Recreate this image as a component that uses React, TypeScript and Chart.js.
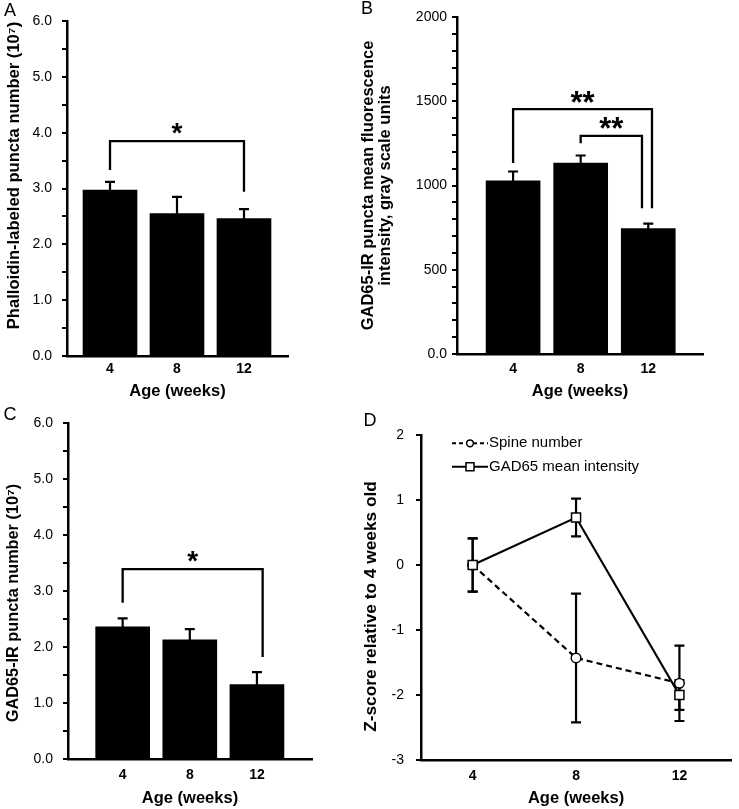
import React, { useEffect, useRef } from "react";
import { Chart, registerables } from "chart.js";

Chart.register(...registerables);

const FONT = '"Liberation Sans", Arial, Helvetica, sans-serif';
Chart.defaults.font.family = FONT;
Chart.defaults.color = "#000";

// ---- shared categories ----
const ageLabels = ["4", "8", "12"];
const agePositions = [1, 2, 3];

// ---- Panel A: Phalloidin-labeled puncta number (10^7) ----
const phalloidinMeans = [2.97, 2.55, 2.46];
const phalloidinSEM = [0.15, 0.3, 0.17];

// ---- Panel B: GAD65-IR puncta mean fluorescence intensity ----
const gadIntensityMeans = [1028, 1133, 745];
const gadIntensitySEM = [55, 45, 29];

// ---- Panel C: GAD65-IR puncta number (10^7) ----
const gadPunctaMeans = [2.36, 2.13, 1.33];
const gadPunctaSEM = [0.15, 0.19, 0.22];

// ---- Panel D: Z-scores relative to 4 weeks old ----
const spineZ = [0, -1.43, -1.82];
const spineZErr = [0.41, 0.99, 0.58];
const gadZ = [0, 0.73, -2.0];
const gadZErr = [0.41, 0.29, 0.23];

// ---- significance brackets (x in category positions, y in data units) ----
const bracketsA = [{ from: 1, to: 3, top: 3.85, leftEnd: 3.33, rightEnd: 2.94, label: "*" }];
const bracketsB = [
  { from: 1, to: 3.055, top: 1453, leftEnd: 1133, rightEnd: 865, label: "**" },
  { from: 2, to: 2.907, top: 1295, leftEnd: 1251, rightEnd: 865, label: "**" },
];
const bracketsC = [{ from: 1, to: 3.085, top: 3.39, leftEnd: 2.79, rightEnd: 1.82, label: "*" }];

// ---------------- plugins ----------------
function errorBarPlugin(errs: number[][]) {
  return {
    id: "errorBars",
    beforeDatasetsDraw(chart: any) {
      const { ctx } = chart;
      const xs = chart.scales.x;
      const ys = chart.scales.y;
      ctx.save();
      ctx.strokeStyle = "#000";
      ctx.lineWidth = 2.2;
      ctx.setLineDash([]);
      chart.data.datasets.forEach((ds: any, di: number) => {
        const e = errs[di];
        if (!e) return;
        ds.data.forEach((pt: any, j: number) => {
          const x = xs.getPixelForValue(pt.x);
          const yHi = ys.getPixelForValue(pt.y + e[j]);
          const yLo = ys.getPixelForValue(pt.y - e[j]);
          ctx.beginPath();
          ctx.moveTo(x, yLo);
          ctx.lineTo(x, yHi);
          ctx.moveTo(x - 5, yHi);
          ctx.lineTo(x + 5, yHi);
          ctx.moveTo(x - 5, yLo);
          ctx.lineTo(x + 5, yLo);
          ctx.stroke();
        });
      });
      ctx.restore();
    },
  };
}

function bracketPlugin(brackets: any[], starSize: number) {
  return {
    id: "brackets",
    afterDatasetsDraw(chart: any) {
      const { ctx } = chart;
      const xs = chart.scales.x;
      const ys = chart.scales.y;
      ctx.save();
      ctx.strokeStyle = "#000";
      ctx.lineWidth = 2.3;
      ctx.lineJoin = "miter";
      brackets.forEach((b) => {
        const x1 = xs.getPixelForValue(b.from);
        const x2 = xs.getPixelForValue(b.to);
        const yt = ys.getPixelForValue(b.top);
        ctx.beginPath();
        ctx.moveTo(x1, ys.getPixelForValue(b.leftEnd));
        ctx.lineTo(x1, yt);
        ctx.lineTo(x2, yt);
        ctx.lineTo(x2, ys.getPixelForValue(b.rightEnd));
        ctx.stroke();
        ctx.font = `bold ${starSize}px ${FONT}`;
        ctx.fillStyle = "#000";
        ctx.textAlign = "center";
        ctx.textBaseline = "alphabetic";
        const m = ctx.measureText(b.label);
        const asc = m.actualBoundingBoxAscent || starSize * 0.72;
        const desc = m.actualBoundingBoxDescent || -starSize * 0.38;
        const cy = yt - 12.5;
        ctx.fillText(b.label, (x1 + x2) / 2, cy + (asc - desc) / 2);
      });
      ctx.restore();
    },
  };
}

function letterPlugin(letter: string, x: number, y: number) {
  return {
    id: "panelLetter",
    afterDraw(chart: any) {
      const { ctx } = chart;
      ctx.save();
      ctx.font = `18px ${FONT}`;
      ctx.fillStyle = "#000";
      ctx.textAlign = "center";
      ctx.textBaseline = "middle";
      ctx.fillText(letter, x, y);
      ctx.restore();
    },
  };
}

// vertical axis title, drawn rotated next to the y axis
function yTitlePlugin(p: any) {
  return {
    id: "yAxisTitle",
    afterDraw(chart: any) {
      const { ctx, chartArea } = chart;
      const lines: string[] = Array.isArray(p.yTitle) ? p.yTitle : [p.yTitle];
      const cy = (chartArea.top + chartArea.bottom) / 2 + p.yTitleShift;
      ctx.save();
      ctx.font = `bold ${p.yTitleSize}px ${FONT}`;
      ctx.fillStyle = "#000";
      ctx.textAlign = "center";
      ctx.textBaseline = "middle";
      lines.forEach((line, i) => {
        ctx.save();
        ctx.translate(p.yTitleX + i * p.yTitleLineGap, cy);
        ctx.rotate(-Math.PI / 2);
        ctx.fillText(line, 0, 0);
        ctx.restore();
      });
      ctx.restore();
    },
  };
}

const zLegendPlugin = {
  id: "zLegend",
  afterDatasetsDraw(chart: any) {
    const { ctx, chartArea } = chart;
    chart.data.datasets.forEach((ds: any, i: number) => {
      const y = chartArea.top + 8.3 + i * 23.4;
      const x0 = chartArea.left + 31;
      const x1 = chartArea.left + 67;
      const xm = (x0 + x1) / 2;
      ctx.save();
      ctx.strokeStyle = "#000";
      ctx.lineWidth = 2;
      ctx.setLineDash(ds.borderDash && ds.borderDash.length ? [4, 3] : []);
      ctx.beginPath();
      ctx.moveTo(x0, y);
      ctx.lineTo(x1, y);
      ctx.stroke();
      ctx.setLineDash([]);
      ctx.lineWidth = 1.5;
      ctx.fillStyle = "#fff";
      ctx.beginPath();
      if (ds.pointStyle === "rect") {
        ctx.rect(xm - 4, y - 4, 8, 8);
      } else {
        ctx.arc(xm, y, 3.4, 0, Math.PI * 2);
      }
      ctx.fill();
      ctx.stroke();
      ctx.font = `15px ${FONT}`;
      ctx.fillStyle = "#000";
      ctx.textAlign = "left";
      ctx.textBaseline = "middle";
      ctx.fillText(ds.label, chartArea.left + 68, y);
      ctx.restore();
    });
  },
};

// ---------------- config builders ----------------
function xAxis(p: any) {
  return {
    type: "linear",
    min: p.xMin,
    max: p.xMax,
    offset: false,
    afterFit: (s: any) => {
      s.height = p.height - p.area.bottom;
    },
    afterBuildTicks: (s: any) => {
      s.ticks = agePositions.map((v) => ({ value: v }));
    },
    grid: { display: false, drawTicks: false },
    border: { display: true, color: "#000", width: 2.5 },
    ticks: {
      autoSkip: false,
      maxRotation: 0,
      padding: p.xTickPad,
      color: "#000",
      font: { family: FONT, size: 14, weight: "bold" },
      callback: (_v: any, i: number) => ageLabels[i],
    },
    title: {
      display: true,
      text: "Age (weeks)",
      color: "#000",
      font: { family: FONT, size: 16.5, weight: "bold", lineHeight: p.xTitleLH },
      padding: { top: 0, bottom: p.xTitlePad },
    },
  };
}

function yAxis(p: any) {
  return {
    min: p.yMin,
    max: p.yMax,
    afterFit: (s: any) => {
      s.width = p.area.left;
    },
    grid: {
      display: true,
      drawOnChartArea: false,
      drawTicks: true,
      tickLength: 5,
      color: "#000",
      lineWidth: 2,
    },
    border: { display: true, color: "#000", width: 2.5 },
    ticks: {
      stepSize: p.step,
      autoSkip: false,
      padding: p.yTickPad,
      color: "#000",
      font: { family: FONT, size: 14 },
      callback: p.yFormat,
    },
    title: { display: false, text: p.yTitle },
  };
}

function layoutPadding(p: any) {
  return { left: 0, top: p.area.top, right: p.width - p.area.right, bottom: 0 };
}

function barConfig(p: any): any {
  return {
    type: "bar",
    data: {
      datasets: [
        {
          data: p.means.map((m: number, i: number) => ({ x: agePositions[i], y: m })),
          backgroundColor: "#000",
          borderWidth: 0,
          barThickness: 54,
        },
      ],
    },
    options: {
      responsive: false,
      animation: false,
      events: [],
      layout: { padding: layoutPadding(p) },
      plugins: { legend: { display: false }, tooltip: { enabled: false } },
      scales: { x: xAxis(p), y: yAxis(p) },
    },
    plugins: [
      errorBarPlugin([p.errs]),
      bracketPlugin(p.brackets, p.starSize),
      yTitlePlugin(p),
      letterPlugin(p.letter[0], p.letter[1], p.letter[2]),
    ],
  };
}

const fmtOneDecimal = (v: number) => (Number.isInteger(v) ? v.toFixed(1) : "");
const fmtIntensity = (v: number) => (v % 500 === 0 ? (v === 0 ? "0.0" : String(v)) : "");

const panelA = {
  width: 350,
  height: 400,
  area: { left: 67, top: 21, right: 288, bottom: 356 },
  xMin: 0.358,
  xMax: 3.657,
  yMin: 0,
  yMax: 6,
  step: 0.5,
  yFormat: fmtOneDecimal,
  yTickPad: 10,
  xTickPad: 5,
  xTitleLH: 1.0,
  xTitlePad: 0,
  yTitle: "Phalloidin-labeled puncta number (10\u2077)",
  yTitleSize: 16.6,
  yTitleX: 14,
  yTitleShift: -13,
  yTitleLineGap: 0,
  means: phalloidinMeans,
  errs: phalloidinSEM,
  brackets: bracketsA,
  starSize: 28,
  letter: ["A", 10, 11],
};

const panelB = {
  width: 389,
  height: 400,
  area: { left: 107, top: 17, right: 353, bottom: 354 },
  xMin: 0.17,
  xMax: 3.81,
  yMin: 0,
  yMax: 2000,
  step: 100,
  yFormat: fmtIntensity,
  yTickPad: 5,
  xTickPad: 7,
  xTitleLH: 1.0,
  xTitlePad: 0,
  yTitle: ["GAD65-IR puncta mean fluorescence", "intensity, gray scale units"],
  yTitleSize: 16.5,
  yTitleX: 18.5,
  yTitleShift: 0,
  yTitleLineGap: 17,
  means: gadIntensityMeans,
  errs: gadIntensitySEM,
  brackets: bracketsB,
  starSize: 31,
  letter: ["B", 17, 9],
};

const panelC = {
  width: 350,
  height: 409,
  area: { left: 68, top: 23, right: 312, bottom: 359 },
  xMin: 0.186,
  xMax: 3.82,
  yMin: 0,
  yMax: 6,
  step: 0.5,
  yFormat: fmtOneDecimal,
  yTickPad: 10,
  xTickPad: 8,
  xTitleLH: 1.2,
  xTitlePad: 0.8,
  yTitle: "GAD65-IR puncta number (10\u2077)",
  yTitleSize: 16.3,
  yTitleX: 14,
  yTitleShift: 12,
  yTitleLineGap: 0,
  means: gadPunctaMeans,
  errs: gadPunctaSEM,
  brackets: bracketsC,
  starSize: 28,
  letter: ["C", 10, 15],
};

const panelD = {
  width: 389,
  height: 409,
  area: { left: 71, top: 35, right: 387, bottom: 360 },
  xMin: 0.5,
  xMax: 3.5,
  yMin: -3,
  yMax: 2,
  step: 1,
  yFormat: (v: number) => String(v),
  yTickPad: 12,
  xTickPad: 8,
  xTitleLH: 1.2,
  xTitlePad: 0.8,
  yTitle: "Z-score relative to 4 weeks old",
  yTitleSize: 17.3,
  yTitleX: 21,
  yTitleShift: 9,
  yTitleLineGap: 0,
};

function lineConfig(p: any): any {
  return {
    type: "line",
    data: {
      datasets: [
        {
          label: "Spine number",
          data: spineZ.map((v, i) => ({ x: agePositions[i], y: v })),
          borderColor: "#000",
          borderWidth: 2.2,
          borderDash: [6, 4],
          pointStyle: "circle",
          pointRadius: 4.8,
          pointBackgroundColor: "#fff",
          pointBorderColor: "#000",
          pointBorderWidth: 1.5,
          tension: 0,
          fill: false,
          order: 1,
        },
        {
          label: "GAD65 mean intensity",
          data: gadZ.map((v, i) => ({ x: agePositions[i], y: v })),
          borderColor: "#000",
          borderWidth: 2.2,
          pointStyle: "rect",
          pointRadius: 6.4,
          pointBackgroundColor: "#fff",
          pointBorderColor: "#000",
          pointBorderWidth: 1.5,
          tension: 0,
          fill: false,
          order: 0,
        },
      ],
    },
    options: {
      responsive: false,
      animation: false,
      events: [],
      clip: false,
      layout: { padding: layoutPadding(p) },
      plugins: { legend: { display: false }, tooltip: { enabled: false } },
      scales: { x: xAxis(p), y: yAxis(p) },
    },
    plugins: [errorBarPlugin([spineZErr, gadZErr]), zLegendPlugin, yTitlePlugin(p), letterPlugin("D", 20, 21)],
  };
}

// ---------------- components ----------------
function ChartCanvas(props: { make: () => any; left: number; top: number; width: number; height: number }) {
  const ref = useRef<HTMLCanvasElement | null>(null);
  useEffect(() => {
    if (!ref.current) return;
    const chart = new Chart(ref.current, props.make());
    return () => chart.destroy();
  }, []);
  return (
    <canvas
      ref={ref}
      width={props.width}
      height={props.height}
      style={{ position: "absolute", left: props.left, top: props.top, width: props.width, height: props.height }}
    />
  );
}

export default function App() {
  return (
    <div style={{ position: "absolute", left: 0, top: 0, width: 739, height: 809, background: "#fff", overflow: "hidden" }}>
      <ChartCanvas make={() => barConfig(panelA)} left={0} top={0} width={panelA.width} height={panelA.height} />
      <ChartCanvas make={() => barConfig(panelB)} left={350} top={0} width={panelB.width} height={panelB.height} />
      <ChartCanvas make={() => barConfig(panelC)} left={0} top={400} width={panelC.width} height={panelC.height} />
      <ChartCanvas make={() => lineConfig(panelD)} left={350} top={400} width={panelD.width} height={panelD.height} />
    </div>
  );
}
